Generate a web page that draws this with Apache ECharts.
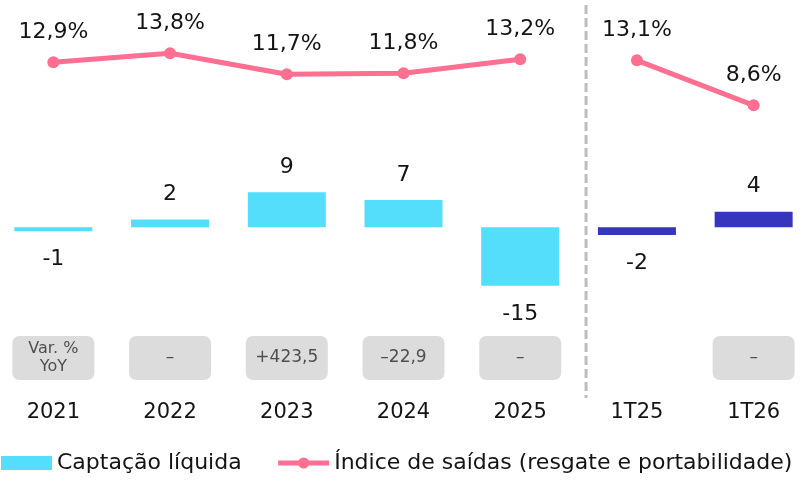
<!DOCTYPE html>
<html>
<head>
<meta charset="utf-8">
<script src="https://cdn.jsdelivr.net/npm/echarts@6/dist/echarts.min.js"></script>
<style>
  html, body { margin: 0; padding: 0; background: #fff; overflow: hidden; }
  body { width: 800px; height: 481px; position: relative; }
  /* The plot runs slightly past both page edges so the outer bars sit flush */
  #chart { position: absolute; left: -5px; top: 0; width: 817px; height: 481px; }
</style>
</head>
<body>
<div id="chart"></div>
<script>
// Periods: five full years, then the two first quarters
const periods = ['2021', '2022', '2023', '2024', '2025', '1T25', '1T26'];
// Net inflow (bars)
const captacao = [-1, 2, 9, 7, -15, -2, 4];
// Outflow index in % (line), split between annual and quarterly segments
const indiceAnual = [12.9, 13.8, 11.7, 11.8, 13.2, null, null];
const indiceTrimestral = [null, null, null, null, null, 13.1, 8.6];
// Year-over-year variation shown in the grey boxes (null = no box)
const varYoY = ['Var. %\nYoY', '–', '+423,5', '–22,9', '–', null, '–'];

const FONT = 'DejaVu Sans';
const CYAN = '#55DDFC';
const NAVY = '#3535BD';
const PINK = '#FF6F91';
const INK = '#141414';
const LINE_NAME = 'Índice de saídas (resgate e portabilidade)';
const BAR_NAME = 'Captação líquida';

const isQuarter = p => p.indexOf('T') > 0;

const barData = captacao.map((v, i) => ({
  value: v,
  itemStyle: { color: isQuarter(periods[i]) ? NAVY : CYAN },
  label: v >= 0 ? { position: 'top', distance: 14 } : { position: 'bottom', distance: 17 }
}));

const fmtPct = p => String(p.value).replace('.', ',') + '%';

const boxData = varYoY.map(t => {
  if (t === null) return { value: null };
  const twoLines = t.indexOf('\n') >= 0;
  return {
    value: 0,
    label: {
      formatter: t,
      fontSize: twoLines ? 16 : 17,
      lineHeight: twoLines ? 18 : 20,
      padding: twoLines ? [4, 0, 4, 0] : [12, 0, 12, 0]
    }
  };
});

const chart = echarts.init(document.getElementById('chart'), null, { renderer: 'canvas' });

const lineSeries = data => ({
  name: LINE_NAME,
  type: 'line',
  yAxisIndex: 1,
  data: data,
  connectNulls: false,
  symbol: 'circle',
  symbolSize: 12,
  lineStyle: { color: PINK, width: 5 },
  itemStyle: { color: PINK },
  label: {
    show: true, position: 'top', distance: 13,
    fontFamily: FONT, fontSize: 22, color: INK,
    formatter: fmtPct
  },
  z: 3
});

chart.setOption({
  animation: false,
  textStyle: { fontFamily: FONT },
  grid: { left: 0, right: 0, top: 27, bottom: 123 },
  legend: {
    data: [
      { name: BAR_NAME, icon: 'rect' },
      { name: LINE_NAME }
    ],
    left: 6, top: 452, padding: 0,
    itemWidth: 51, itemHeight: 14, itemGap: 34,
    lineStyle: { width: 5 },
    textStyle: { fontFamily: FONT, fontSize: 22, color: INK }
  },
  xAxis: {
    type: 'category',
    data: periods,
    axisLine: { show: false },
    axisTick: { show: false },
    axisLabel: { margin: 44, fontFamily: FONT, fontSize: 21, color: INK }
  },
  yAxis: [
    { type: 'value', min: -33.51, max: 51.36, show: false, splitLine: { show: false } },
    { type: 'value', min: -16.67, max: 16.43, show: false, splitLine: { show: false } },
    { type: 'value', min: 0, max: 1, show: false, splitLine: { show: false } }
  ],
  series: [
    {
      name: BAR_NAME,
      type: 'bar',
      data: barData,
      barWidth: 78,
      itemStyle: { color: CYAN },
      label: { show: true, fontFamily: FONT, fontSize: 22, color: INK }
    },
    lineSeries(indiceAnual),
    lineSeries(indiceTrimestral),
    {
      name: 'varYoY',
      type: 'scatter',
      yAxisIndex: 2,
      data: boxData,
      symbolSize: 0,
      clip: false,
      silent: true,
      label: {
        show: true, position: 'inside',
        width: 82, align: 'center',
        backgroundColor: '#D3D3D3', borderRadius: 7,
        fontFamily: FONT, color: '#2A2A2A'
      }
    }
  ]
});

// Dashed divider between the annual and quarterly periods
const x4 = chart.convertToPixel({ xAxisIndex: 0 }, periods[4]);
const x5 = chart.convertToPixel({ xAxisIndex: 0 }, periods[5]);
const xDiv = (x4 + x5) / 2 + 0.064 * (x5 - x4);
chart.setOption({
  graphic: [{
    type: 'line',
    shape: { x1: xDiv, y1: 5, x2: xDiv, y2: 398 },
    style: { stroke: '#BDBDBD', lineWidth: 3, lineDash: [9, 4] },
    z: 0
  }]
});
</script>
</body>
</html>
